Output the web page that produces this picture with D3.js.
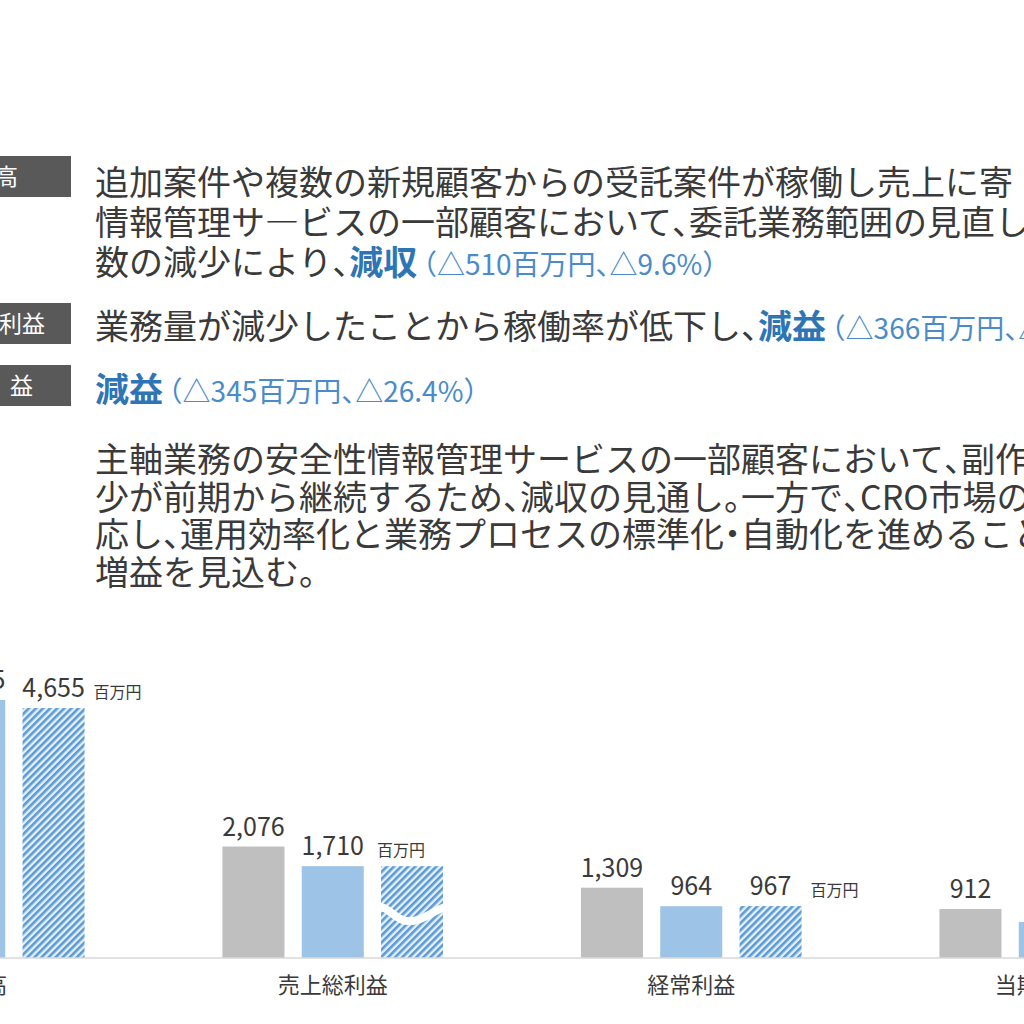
<!DOCTYPE html>
<html lang="ja">
<head>
<meta charset="utf-8">
<script src="https://cdn.jsdelivr.net/npm/d3@7"></script>
<style>
  html, body { margin: 0; padding: 0; background: #fff; overflow: hidden; }
  svg { display: block; }
  text { font-family: "Noto Sans CJK JP", "Noto Sans", sans-serif; }
</style>
</head>
<body>
<svg id="chart" width="1024" height="1024"></svg>
<script>
// ---------- data ----------
const categories = ["売上高", "売上総利益", "経常利益", "当期純利益"];
const seriesNames = ["前期実績", "当期実績", "次期予想"];
const prevValues = [5315, 2076, 1309, 912];
const currValues = [4805, 1710, 964, 670];
const forecastValues = [4655, null, 967, null];
// forecast bar drawn with a break mark and no value label
const forecastBrokenValues = [null, 1710, null, null];
const unitLabel = "百万円";

const commentLabels = ["売上高", "売上総利益", "経常利益"];
const commentRows = [
  { lines: [
      [{t: "追加案件や複数の新規顧客からの受託案件が稼働し売上に寄"}],
      [{t: "情報管理サ―ビスの一部顧客において、委託業務範囲の見直し"}],
      [{t: "数の減少により、"}, {t: "減収", k: "em"}, {t: "（△510百万円、△9.6%）", k: "paren"}]
    ]},
  { lines: [
      [{t: "業務量が減少したことから稼働率が低下し、"}, {t: "減益", k: "em"}, {t: "（△366百万円、△17.6%）", k: "paren"}]
    ]},
  { lines: [
      [{t: "減益", k: "em"}, {t: "（△345百万円、△26.4%）", k: "paren"}]
    ]}
];
const outlookLines = [
  "主軸業務の安全性情報管理サービスの一部顧客において、副作",
  "少が前期から継続するため、減収の見通し。一方で、CRO市場の",
  "応し、運用効率化と業務プロセスの標準化・自動化を進めること",
  "増益を見込む。"
];

// ---------- setup ----------
const svg = d3.select("#chart");
const textColor = "#3a3a3a";
const colPrev = "#bfbfbf", colCurr = "#9dc3e6", colStripe = "#5b9bd5";
const bodySize = 34, parenSize = 28;

const defs = svg.append("defs");
const pat = defs.append("pattern")
  .attr("id", "hatch").attr("patternUnits", "userSpaceOnUse")
  .attr("width", 5).attr("height", 5)
  .attr("patternTransform", "rotate(45)");
pat.append("rect").attr("width", 5).attr("height", 5).attr("fill", "#e6f0fa");
pat.append("rect").attr("x", 0).attr("width", 2.6).attr("height", 5).attr("fill", colStripe);

// write a string into a text element, making 、。・（ half width
function addRuns(textSel, str, size, attrs) {
  let buf = "";
  const flush = () => {
    if (!buf) return;
    const sp = textSel.append("tspan").text(buf);
    attrs(sp);
    buf = "";
  };
  for (const ch of str) {
    if ("、。".includes(ch)) {
      flush();
      const sp = textSel.append("tspan").text(ch).attr("letter-spacing", -size * 0.5);
      attrs(sp);
    } else if (ch === "・" || ch === "（") {
      flush();
      const sp = textSel.append("tspan").text(ch)
        .attr("dx", ch === "（" ? -size * 0.3 : -size * 0.25)
        .attr("letter-spacing", ch === "（" ? 0 : -size * 0.25);
      attrs(sp);
    } else buf += ch;
  }
  flush();
}

// ---------- comment block ----------
const boxRows = [177, 324, 386];
const boxTextStart = [-51, -70, -95];
const boxTextSpacing = [0, 0, 12];
const rowBaselines = [[195, 235, 275], [339], [402]];
commentLabels.forEach((lab, i) => {
  svg.append("rect").attr("x", -100).attr("y", boxRows[i] - 21)
    .attr("width", 171).attr("height", 41).attr("fill", "#595959");
  svg.append("text").attr("x", boxTextStart[i]).attr("y", boxRows[i] + 8)
    .attr("fill", "#fff").attr("letter-spacing", boxTextSpacing[i])
    .attr("font-size", 23).text(lab);
});
commentRows.forEach((row, i) => {
  row.lines.forEach((segs, j) => {
    const t = svg.append("text").attr("x", 95).attr("y", rowBaselines[i][j])
      .attr("font-size", bodySize).attr("fill", textColor);
    segs.forEach(s => {
      if (s.k === "em") {
        addRuns(t, s.t, bodySize, sp => sp.attr("fill", "#2e75b6").attr("font-weight", 700));
      } else if (s.k === "paren") {
        addRuns(t, s.t, parenSize, sp => sp.attr("fill", "#4a8bc9").attr("font-size", parenSize));
      } else {
        addRuns(t, s.t, bodySize, sp => sp);
      }
    });
  });
});
outlookLines.forEach((ln, i) => {
  const t = svg.append("text").attr("x", 95).attr("y", 472 + i * 37.5)
    .attr("font-size", bodySize).attr("fill", textColor);
  addRuns(t, ln, bodySize, sp => sp);
});

// ---------- chart ----------
const baseY = 958;
const x0 = d3.scaleBand().domain(categories).range([-205, 1229]).padding(0);
const x1 = d3.scaleBand().domain(seriesNames).range([-110.3, 110.3]).paddingInner(0.218).paddingOuter(0);
const y = d3.scaleLinear().domain([0, 6000]).range([baseY, baseY - 322.2]);

const barData = [];
categories.forEach((c, i) => {
  barData.push({c, s: seriesNames[0], v: prevValues[i], label: true, fill: colPrev});
  barData.push({c, s: seriesNames[1], v: currValues[i], label: true, fill: colCurr});
  if (forecastValues[i] != null)
    barData.push({c, s: seriesNames[2], v: forecastValues[i], label: true, fill: "url(#hatch)", unit: true});
  else if (forecastBrokenValues[i] != null)
    barData.push({c, s: seriesNames[2], v: forecastBrokenValues[i], label: false, fill: "url(#hatch)", unit: true, broken: true});
});
const bx = d => x0(d.c) + x0.bandwidth() / 2 + x1(d.s);
const bw = x1.bandwidth();

const g = svg.append("g");
g.selectAll("rect.bar").data(barData).join("rect")
  .attr("class", "bar")
  .attr("x", bx).attr("width", bw)
  .attr("y", d => y(d.v)).attr("height", d => baseY - y(d.v))
  .attr("fill", d => d.fill);

// break mark (white wave through the bar)
barData.filter(d => d.broken).forEach(d => {
  const x = bx(d), ym = (y(d.v) + baseY) / 2 + 2;
  const path = d3.path();
  path.moveTo(x - 2, ym - 7);
  path.bezierCurveTo(x + bw * 0.12, ym - 8, x + bw * 0.22, ym + 6, x + bw * 0.42, ym + 7);
  path.bezierCurveTo(x + bw * 0.65, ym + 8, x + bw * 0.8, ym - 2, x + bw + 2, ym - 7);
  g.append("path").attr("d", path.toString()).attr("fill", "none")
    .attr("stroke", "#fff").attr("stroke-width", 8);
});

// value labels
const fmt = d3.format(",");
g.selectAll("text.val").data(barData.filter(d => d.label)).join("text")
  .attr("class", "val")
  .attr("x", d => bx(d) + bw / 2).attr("y", d => y(d.v) - 11)
  .attr("text-anchor", "middle").attr("font-size", 25)
  .attr("fill", textColor).text(d => fmt(d.v));

// unit labels
g.selectAll("text.unit").data(barData.filter(d => d.unit)).join("text")
  .attr("class", "unit")
  .attr("x", d => d.label ? bx(d) + bw + 9 : bx(d) - 4)
  .attr("y", d => y(d.v) - 10)
  .attr("font-size", 16).attr("fill", textColor).text(unitLabel);

// baseline axis
const axis = d3.axisBottom(x0).tickSize(0).tickPadding(19);
const ax = svg.append("g").attr("transform", `translate(0,${baseY})`).call(axis);
ax.select(".domain").attr("stroke", "#d9d9d9").attr("stroke-width", 1.5)
  .attr("d", "M0,0H1024");
ax.selectAll(".tick text").attr("font-size", 22).attr("fill", textColor)
  .attr("font-family", "'Noto Sans CJK JP', sans-serif");
</script>
</body>
</html>
